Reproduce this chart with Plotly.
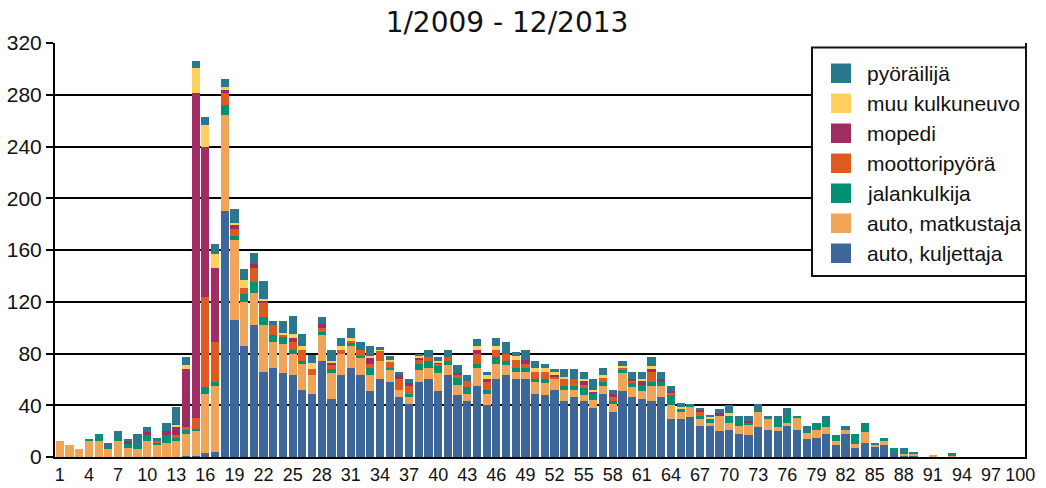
import plotly.graph_objects as go

# ---------------- data ----------------
ages = list(range(1, 101))
tick_labels = list(range(1, 101, 3))

# age groups 1..100, counts per road-user type
kuljettaja = [0,0,0,0,0,0,0,0,0,0, 0,0,0,1,1,3,4,190,106,86,
              102,66,69,65,63,52,49,74,45,63, 69,63,51,60,58,46,41,58,60,51,
              63,48,43,55,40,60,63,60,60,49, 48,52,43,46,43,38,49,35,51,46,
              45,43,46,29,29,31,24,24,20,21, 18,17,23,21,20,24,21,14,15,18,
              9,18,7,11,8,9,4,1,1,0, 0,0,0,0,0,0,0,0,0,0]
matkustaja = [12,9,6,12,12,6,12,7,6,12, 9,11,12,17,19,46,51,74,62,34,
              25,36,20,22,17,20,14,20,20,17, 17,14,12,14,9,6,5,9,9,14,
              8,8,6,14,9,12,8,6,6,9, 9,8,9,6,5,6,6,6,14,8,
              6,12,9,11,6,8,5,2,12,5, 6,8,12,8,3,2,9,5,6,5,
              3,3,3,8,1,3,0,1,2,0, 1,0,1,0,0,0,0,0,0,0]
jalankulkija = [0,0,0,2,6,2,3,3,3,5, 2,6,3,3,2,5,3,8,3,6,
                8,6,5,6,3,2,0,3,3,0, 2,1,6,0,2,0,3,5,5,5,
                3,5,5,3,3,5,3,3,3,2, 3,0,3,3,5,5,3,2,2,3,
                5,3,3,8,2,1,3,3,0,6, 5,1,0,0,6,6,2,1,5,6,
                5,0,8,6,0,3,3,3,1,0, 0,0,2,0,0,0,0,0,0,0]
moottoripyora = [0,0,0,0,0,0,0,0,0,0, 1,0,2,2,8,70,31,9,5,5,
                 11,11,8,2,6,9,5,3,3,3, 2,5,3,8,5,8,6,3,3,2,
                 3,3,5,8,6,6,6,6,3,6, 6,2,5,5,3,0,3,3,2,2,
                 0,8,0,2,0,0,3,0,0,0, 0,0,0,0,0,0,0,0,0,0,
                 0,0,0,0,0,0,0,0,0,0, 0,0,0,0,0,0,0,0,0,0]
mopedi = [0,0,0,0,0,0,0,2,0,2, 0,3,6,45,251,116,57,3,3,0,
          3,2,0,0,3,0,0,3,2,0, 0,0,5,0,0,3,2,2,0,1,
          0,1,0,3,2,0,0,0,3,0, 0,1,0,0,3,2,0,3,0,1,
          3,2,2,1,0,0,2,0,2,0, 0,2,0,0,0,0,0,0,0,0,
          0,0,0,0,0,0,0,0,0,0, 0,0,0,0,0,0,0,0,0,0]
muu_kulkuneuvo = [0,0,0,0,0,0,0,0,0,0, 0,0,2,3,20,17,11,2,2,6,
                  0,1,0,1,3,3,5,0,1,3, 2,0,1,1,1,0,0,1,0,1,
                  0,0,0,3,3,3,0,3,0,3, 3,3,2,0,1,1,2,0,1,0,
                  1,2,0,0,2,0,0,2,0,2, 0,0,0,0,0,0,0,0,0,0,
                  0,0,0,0,0,0,0,0,0,0, 0,0,0,0,0,0,0,0,0,0]
pyorailija = [0,0,0,0,0,3,5,2,9,4, 3,6,14,6,5,6,8,6,11,8,
              9,14,3,9,14,9,6,5,9,6, 8,6,8,2,3,3,3,2,6,3,
              6,6,4,5,3,6,9,3,8,5, 3,2,6,8,6,8,6,3,4,6,
              6,7,6,4,3,1,1,1,3,6, 3,4,6,3,3,6,0,4,0,3,
              0,3,0,1,2,0,0,2,0,0, 0,0,0,0,0,0,0,0,0,0]

# stacking order bottom -> top
series_names = ["auto, kuljettaja", "auto, matkustaja", "jalankulkija",
                "moottoripyörä", "mopedi", "muu kulkuneuvo", "pyöräilijä"]
series_values = [kuljettaja, matkustaja, jalankulkija, moottoripyora,
                 mopedi, muu_kulkuneuvo, pyorailija]
series_colors = ["#3D6699", "#F0A458", "#009273", "#DF5A20",
                 "#A12C62", "#FFD05E", "#2A788E"]

title_text = "1/2009 - 12/2013"

# ---------------- figure ----------------
W, H = 1046, 488
ML, MR, MT, MB = 55, 21, 43, 31

fig = go.Figure()
for name, vals, col in zip(series_names, series_values, series_colors):
    fig.add_trace(go.Bar(x=ages, y=vals, name=name,
                         marker=dict(color=col, line=dict(width=0)),
                         showlegend=False))

plot_w = W - ML - MR
plot_h = H - MT - MB


def px(x):
    return (x - ML) / plot_w


def py(y):
    return (H - MB - y) / plot_h


shapes = []
annotations = []
# legend box
shapes.append(dict(type="rect", xref="paper", yref="paper",
                   x0=px(812), x1=px(1026), y0=py(276), y1=py(47.5),
                   fillcolor="white", line=dict(color="#111111", width=2),
                   layer="above"))
legend_order = list(reversed(range(len(series_names))))
for k, idx in enumerate(legend_order):
    top = 63.5 + 30 * k
    shapes.append(dict(type="rect", xref="paper", yref="paper",
                       x0=px(831), x1=px(851), y0=py(top + 19.5), y1=py(top),
                       fillcolor=series_colors[idx], line=dict(width=0),
                       layer="above"))
    annotations.append(dict(xref="paper", yref="paper", x=px(865),
                            y=py(top + 10), text=series_names[idx],
                            showarrow=False, xanchor="left", yanchor="middle",
                            font=dict(family="Liberation Sans, Arial", size=21,
                                      color="#111111")))

fig.update_layout(
    width=W, height=H, autosize=False,
    margin=dict(l=ML, r=MR, t=MT, b=MB, pad=0),
    paper_bgcolor="white", plot_bgcolor="white",
    barmode="stack", bargap=0.15,
    title=dict(text=title_text, x=507 / W, xref="container", xanchor="center",
               y=1 - 22 / H, yref="container", yanchor="middle",
               font=dict(family="DejaVu Sans, Verdana", size=28, color="#111111")),
    xaxis=dict(range=[0.5, 100.5], tickmode="array", tickvals=tick_labels,
               ticktext=[str(v) for v in tick_labels], automargin=False,
               showgrid=False, zeroline=False, showline=True, tickangle=0,
               linecolor="black", linewidth=2, ticks="",
               tickfont=dict(family="Liberation Sans", size=18,
                             color="#111111")),
    yaxis=dict(range=[0, 320], tick0=0, dtick=40, showgrid=True, automargin=False,
               gridcolor="black", gridwidth=1.5, zeroline=False,
               showline=True, linecolor="black", linewidth=2, mirror=True,
               ticks="outside", ticklen=7, tickwidth=1.5, tickcolor="black",
               tickfont=dict(family="Liberation Sans, Arial", size=21,
                             color="#111111")),
    shapes=shapes, annotations=annotations,
)

fig.write_html("out.html",
               config={"displayModeBar": False},
               post_script="document.body.style.margin='0';"
                           "document.body.style.padding='0';")
